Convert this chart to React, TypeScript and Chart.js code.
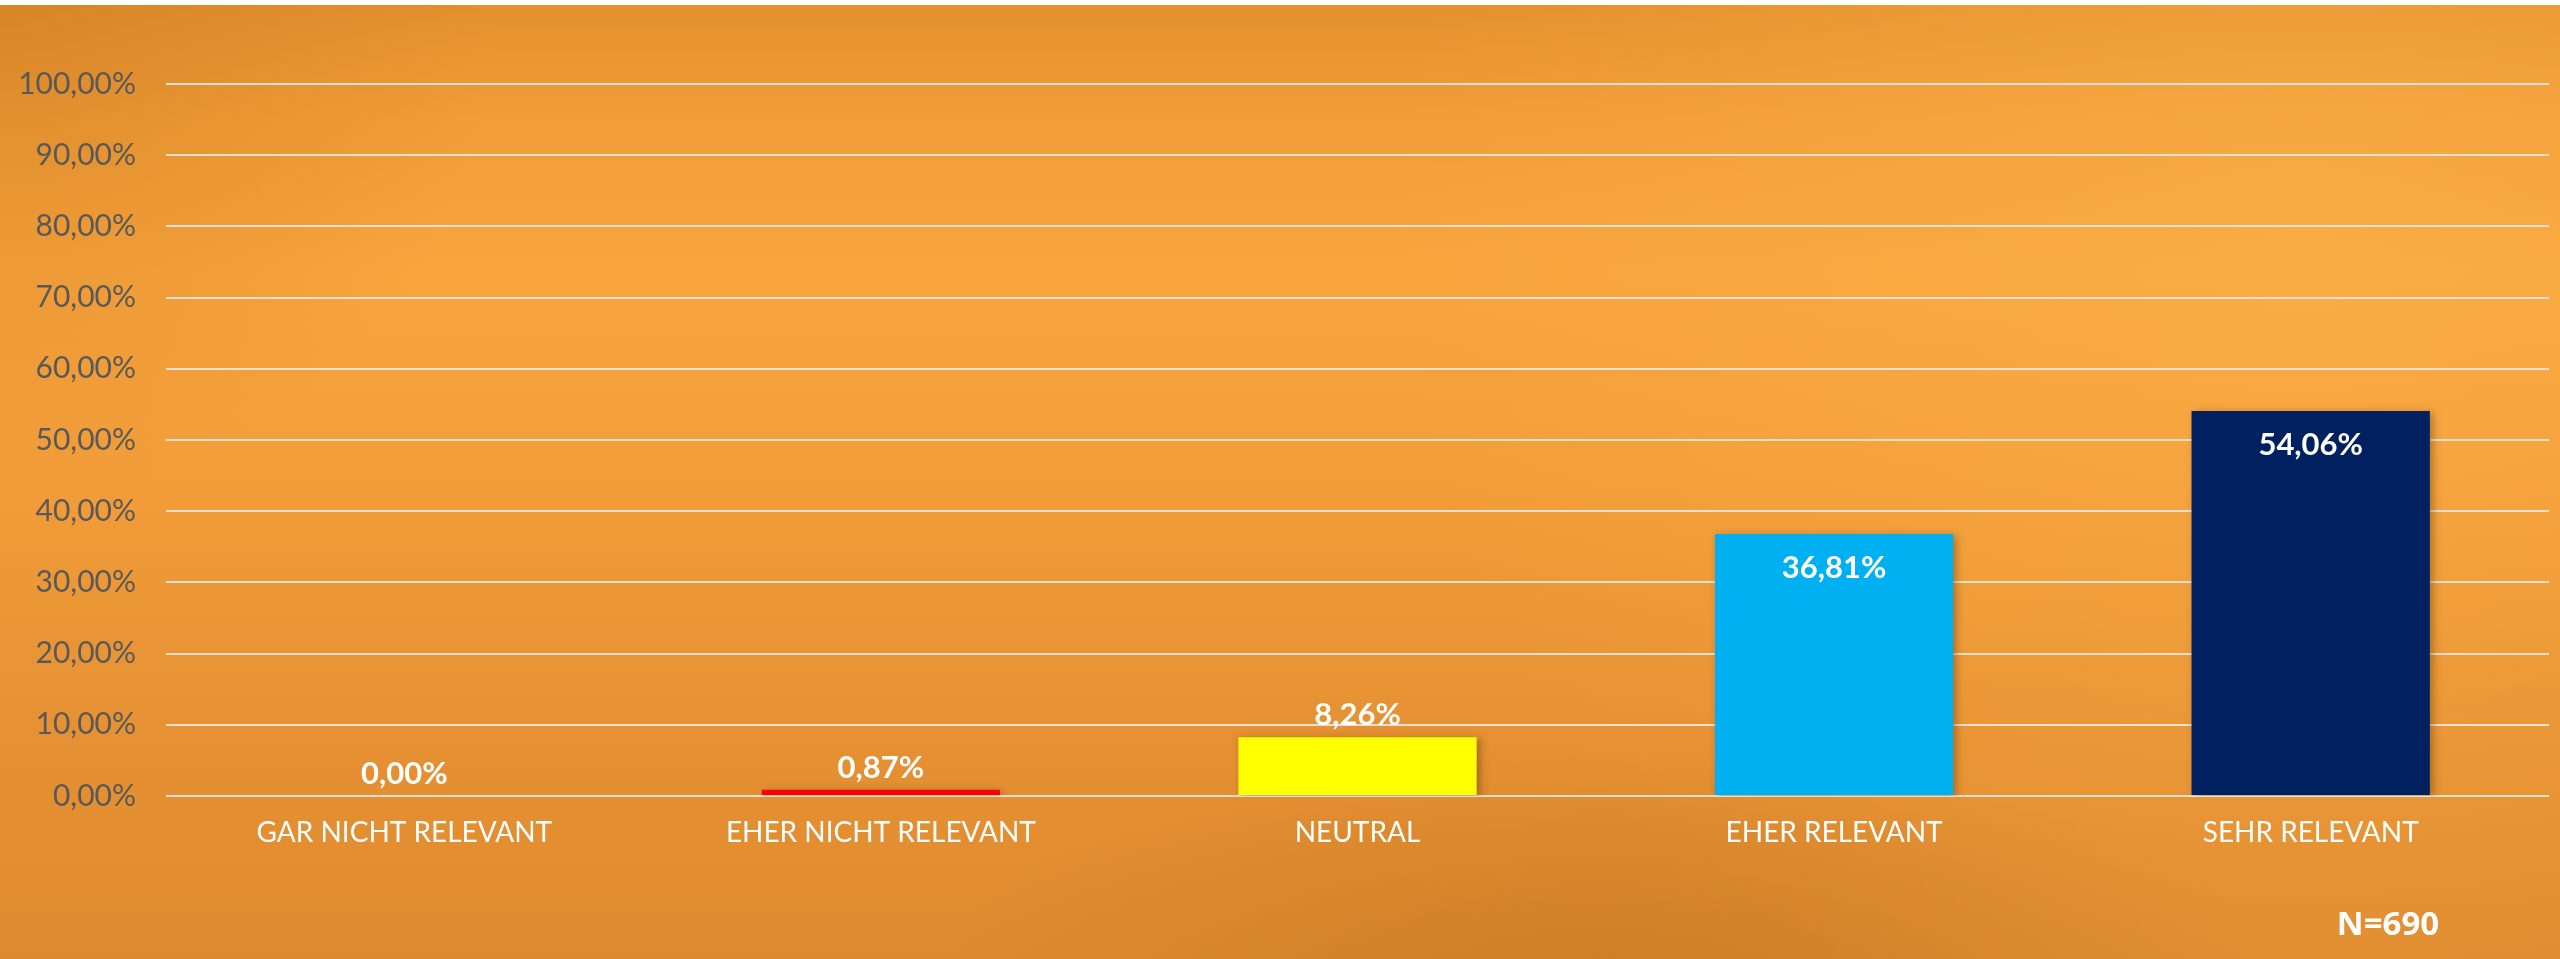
import React, { useEffect, useRef } from "react";
import { Chart, registerables } from "chart.js";

Chart.register(...registerables);

const categories = ["GAR NICHT RELEVANT", "EHER NICHT RELEVANT", "NEUTRAL", "EHER RELEVANT", "SEHR RELEVANT"];
const values = [0.0, 0.87, 8.26, 36.81, 54.06];
const barColors = ["#FF0000", "#FF0000", "#FFFF00", "#00B0F0", "#002060"];
const yTicks = [0, 10, 20, 30, 40, 50, 60, 70, 80, 90, 100];
const sampleNote = "N=690";

const fmt = (v: number) => v.toFixed(2).replace(".", ",") + "%";

const W = 2560;
const H = 954;

const bgPlugin = {
  id: "bg",
  beforeDraw(chart: any) {
    const ctx = chart.ctx;
    const w = chart.width;
    const h = chart.height;
    ctx.save();
    const g = ctx.createLinearGradient(0, 0, 0, h);
    g.addColorStop(0, "#E3912F");
    g.addColorStop(0.12, "#F19D38");
    g.addColorStop(0.28, "#F8A53E");
    g.addColorStop(0.5, "#F29D39");
    g.addColorStop(0.75, "#E69133");
    g.addColorStop(1, "#DE8B2F");
    ctx.fillStyle = g;
    ctx.fillRect(0, 0, w, h);
    // brighter right-upper glow
    const r1 = ctx.createRadialGradient(2300, 220, 0, 2300, 220, 900);
    r1.addColorStop(0, "rgba(255,180,75,0.45)");
    r1.addColorStop(1, "rgba(255,180,75,0)");
    ctx.fillStyle = r1;
    ctx.fillRect(0, 0, w, h);
    // darker top-left corner
    const r2 = ctx.createRadialGradient(0, 0, 0, 0, 0, 500);
    r2.addColorStop(0, "rgba(200,120,30,0.45)");
    r2.addColorStop(1, "rgba(200,120,30,0)");
    ctx.fillStyle = r2;
    ctx.fillRect(0, 0, w, h);
    // darker bottom center
    ctx.save();
    ctx.translate(1600, h + 10);
    ctx.scale(3, 1);
    const r3 = ctx.createRadialGradient(0, 0, 0, 0, 0, 220);
    r3.addColorStop(0, "rgba(190,110,30,0.45)");
    r3.addColorStop(1, "rgba(190,110,30,0)");
    ctx.fillStyle = r3;
    ctx.fillRect(-400, -300, 800, 400);
    ctx.restore();
    ctx.restore();
  },
};

const shadowPlugin = {
  id: "barShadow",
  beforeDatasetDraw(chart: any) {
    const ctx = chart.ctx;
    ctx.save();
    ctx.shadowColor = "rgba(90,50,10,0.45)";
    ctx.shadowBlur = 8;
    ctx.shadowOffsetX = 3;
    ctx.shadowOffsetY = 2;
  },
  afterDatasetDraw(chart: any) {
    chart.ctx.restore();
  },
};

const labelPlugin = {
  id: "valueLabels",
  afterDatasetsDraw(chart: any) {
    const ctx = chart.ctx;
    const meta = chart.getDatasetMeta(0);
    ctx.save();
    ctx.fillStyle = "#FFFFFF";
    ctx.font = "bold 31px Lato";
    ctx.textAlign = "center";
    ctx.textBaseline = "middle";
    meta.data.forEach((bar: any, i: number) => {
      const v = values[i];
      const y = v > 20 ? bar.y + 34 : bar.y - 22;
      ctx.fillText(fmt(v), bar.x, y);
    });
    ctx.font = "bold 33px 'Open Sans'";
    ctx.fillText(sampleNote, chart.chartArea.right - 161, 921);
    ctx.restore();
  },
};

export default function App() {
  const ref = useRef<HTMLCanvasElement | null>(null);
  useEffect(() => {
    document.body.style.margin = "0";
    const c = ref.current;
    if (!c) return;
    const chart = new Chart(c, {
      type: "bar",
      data: {
        labels: categories,
        datasets: [
          {
            data: values,
            backgroundColor: barColors,
            borderWidth: 0,
            categoryPercentage: 1,
            barPercentage: 0.5,
          },
        ],
      },
      options: {
        responsive: false,
        animation: false,
        devicePixelRatio: 1,
        layout: { padding: { top: 79, right: 11, left: 0, bottom: 0 } },
        plugins: { legend: { display: false }, tooltip: { enabled: false } },
        scales: {
          x: {
            grid: { display: false, drawTicks: false },
            border: { display: false },
            ticks: {
              color: "#FFFFFF",
              font: { family: "Lato", size: 28 },
              padding: 20,
              maxRotation: 0,
              autoSkip: false,
            },
            afterFit(scale: any) {
              scale.height = 163;
            },
          },
          y: {
            min: 0,
            max: 100,
            afterBuildTicks(scale: any) {
              scale.ticks = yTicks.map((v) => ({ value: v }));
            },
            grid: { color: "rgba(232,228,220,0.95)", lineWidth: 2, drawTicks: false },
            border: { display: false },
            ticks: {
              color: "#595959",
              font: { family: "Lato", size: 30 },
              padding: 30,
              callback: (v: any) => fmt(Number(v)),
            },
            afterFit(scale: any) {
              scale.width = 166;
            },
          },
        },
      },
      plugins: [bgPlugin, shadowPlugin, labelPlugin],
    });
    return () => chart.destroy();
  }, []);
  return (
    <div style={{ paddingTop: 5, background: "#FFFFFF", width: W }}>
      <canvas ref={ref} width={W} height={H} style={{ display: "block", width: W, height: H }} />
    </div>
  );
}
